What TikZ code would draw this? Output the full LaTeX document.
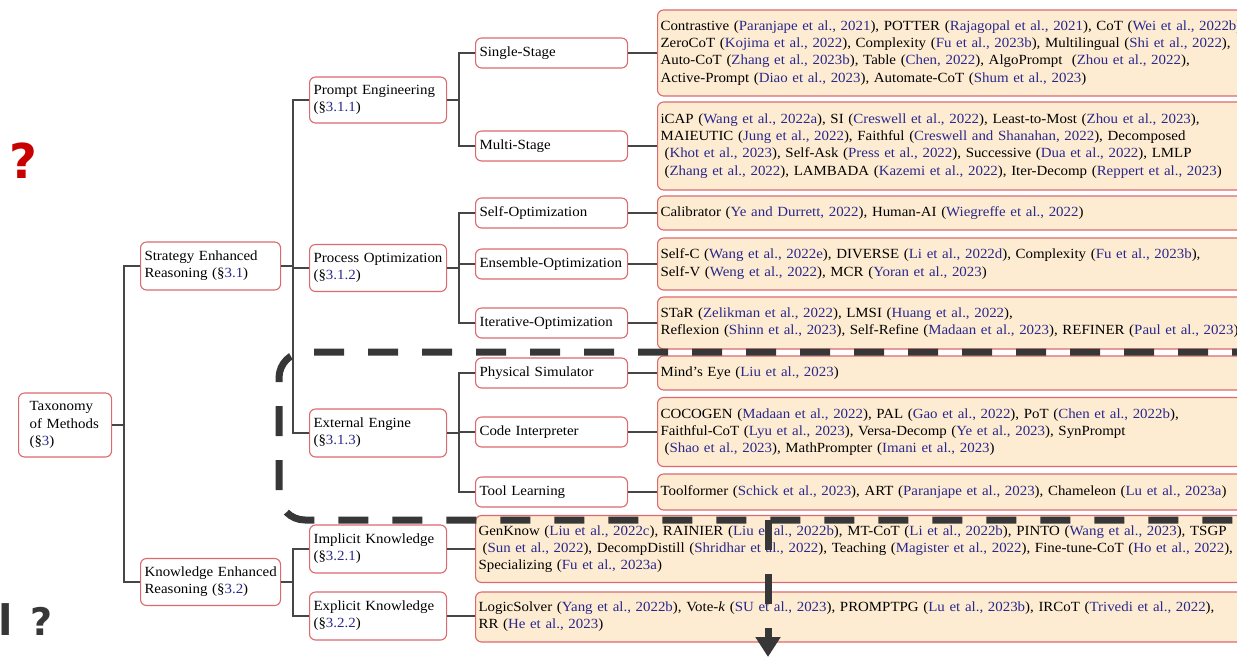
\documentclass[tikz,border=0pt]{standalone}
\usepackage{fontspec}
\setmainfont[FakeStretch=1.065]{Liberation Serif}
\newfontfamily\annfont{DejaVu Sans}
\usetikzlibrary{arrows.meta}
\definecolor{citeblue}{RGB}{40,40,140}
\definecolor{nodered}{RGB}{220,105,110}
\definecolor{leaffill}{RGB}{254,236,210}
\definecolor{linegray}{RGB}{70,70,70}
\definecolor{dashgray}{RGB}{55,55,55}
\definecolor{qred}{RGB}{200,0,0}
\newcommand{\ct}[1]{\textcolor{citeblue}{#1}}
\newcommand{\ind}{\hspace*{4pt}}

\begin{document}
\hyphenpenalty=10000
\exhyphenpenalty=10000
\begin{tikzpicture}[x=1pt,y=-1pt,
  catbox/.style={draw=nodered, line width=1.1pt, rounded corners=6pt, fill=white,
    anchor=west, align=left, inner xsep=4pt, inner ysep=1pt,
    font=\fontsize{14}{17.2}\selectfont},
  leafbox/.style={catbox, fill=leaffill, inner xsep=3pt, text width=800pt},
  midbox/.style={catbox, text width=129pt},
  subbox/.style={catbox, text width=144pt, minimum height=30pt},
  conn/.style={draw=linegray, line width=1.8pt},
  dashbox/.style={draw=dashgray, line width=7pt, dash pattern=on 30pt off 24pt}]
\useasboundingbox (0,0) rectangle (1237,656);
\clip (0,0) rectangle (1237,656);

% root and first level
\node[catbox, text width=71pt, inner xsep=11pt, minimum height=64pt] (root) at (18,425)
  {Taxonomy\\of~Methods\\(\S\ct{3})};
\node[catbox, text width=132pt, minimum height=48pt] (ser) at (140,266)
  {Strategy~Enhanced\\Reasoning~(\S\ct{3.1})};
\node[catbox, text width=132pt, minimum height=47pt] (ker) at (140,582)
  {Knowledge~Enhanced\\Reasoning~(\S\ct{3.2})};

% second level
\node[midbox, minimum height=46pt] (pe) at (309,100) {Prompt~Engineering\\(\S\ct{3.1.1})};
\node[midbox, minimum height=47pt] (po) at (309,268) {Process~Optimization\\(\S\ct{3.1.2})};
\node[midbox, minimum height=48pt] (ee) at (309,433) {External~Engine\\(\S\ct{3.1.3})};
\node[midbox, minimum height=48pt] (ik) at (309,549) {Implicit~Knowledge\\(\S\ct{3.2.1})};
\node[midbox, minimum height=48pt] (ek) at (309,616) {Explicit~Knowledge\\(\S\ct{3.2.2})};

% third level
\node[subbox] (ss) at (475,53)  {Single-Stage};
\node[subbox] (ms) at (475,146) {Multi-Stage};
\node[subbox] (so) at (475,213) {Self-Optimization};
\node[subbox] (eo) at (475,264) {Ensemble-Optimization};
\node[subbox] (io) at (475,323) {Iterative-Optimization};
\node[subbox] (ps) at (475,373) {Physical~Simulator};
\node[subbox] (ci) at (475,432) {Code~Interpreter};
\node[subbox] (tl) at (475,492) {Tool~Learning};

% leaves with the cited works
\node[leafbox, minimum height=86pt] (lss) at (657,53)
  {Contrastive (\ct{Paranjape et al., 2021}), POTTER (\ct{Rajagopal et al., 2021}), CoT (\ct{Wei et al., 2022b}),\\
   ZeroCoT (\ct{Kojima et al., 2022}), Complexity (\ct{Fu et al., 2023b}), Multilingual (\ct{Shi et al., 2022}),\\
   Auto-CoT (\ct{Zhang et al., 2023b}), Table (\ct{Chen, 2022}), AlgoPrompt\ \ (\ct{Zhou et al., 2022}),\\
   Active-Prompt (\ct{Diao et al., 2023}), Automate-CoT (\ct{Shum et al., 2023})};
\node[leafbox, minimum height=88pt] (lms) at (657,146)
  {iCAP (\ct{Wang et al., 2022a}), SI (\ct{Creswell et al., 2022}), Least-to-Most (\ct{Zhou et al., 2023}),\\
   MAIEUTIC (\ct{Jung et al., 2022}), Faithful (\ct{Creswell and Shanahan, 2022}), Decomposed\\
   \ind(\ct{Khot et al., 2023}), Self-Ask (\ct{Press et al., 2022}), Successive (\ct{Dua et al., 2022}), LMLP\\
   \ind(\ct{Zhang et al., 2022}), LAMBADA (\ct{Kazemi et al., 2022}), Iter-Decomp (\ct{Reppert et al., 2023})};
\node[leafbox, minimum height=34pt] (lso) at (657,213)
  {Calibrator (\ct{Ye and Durrett, 2022}), Human-AI (\ct{Wiegreffe et al., 2022})};
\node[leafbox, minimum height=52pt] (leo) at (657,264)
  {Self-C (\ct{Wang et al., 2022e}), DIVERSE (\ct{Li et al., 2022d}), Complexity (\ct{Fu et al., 2023b}),\\
   Self-V (\ct{Weng et al., 2022}), MCR (\ct{Yoran et al., 2023})};
\node[leafbox, minimum height=52pt] (lio) at (657,323)
  {STaR (\ct{Zelikman et al., 2022}), LMSI (\ct{Huang et al., 2022}),\\
   Reflexion (\ct{Shinn et al., 2023}), Self-Refine (\ct{Madaan et al., 2023}), REFINER (\ct{Paul et al., 2023})};
\node[leafbox, minimum height=34pt] (lps) at (657,373)
  {Mind's Eye (\ct{Liu et al., 2023})};
\node[leafbox, minimum height=69pt] (lci) at (657,432)
  {COCOGEN (\ct{Madaan et al., 2022}), PAL (\ct{Gao et al., 2022}), PoT (\ct{Chen et al., 2022b}),\\
   Faithful-CoT (\ct{Lyu et al., 2023}), Versa-Decomp (\ct{Ye et al., 2023}), SynPrompt\\
   \ind(\ct{Shao et al., 2023}), MathPrompter (\ct{Imani et al., 2023})};
\node[leafbox, minimum height=36pt] (ltl) at (657,492)
  {Toolformer (\ct{Schick et al., 2023}), ART (\ct{Paranjape et al., 2023}), Chameleon (\ct{Lu et al., 2023a})};
\node[leafbox, minimum height=67pt] (lik) at (475,549)
  {GenKnow (\ct{Liu et al., 2022c}), RAINIER (\ct{Liu et al., 2022b}), MT-CoT (\ct{Li et al., 2022b}), PINTO (\ct{Wang et al., 2023}), TSGP\\
   \ind(\ct{Sun et al., 2022}), DecompDistill (\ct{Shridhar et al., 2022}), Teaching (\ct{Magister et al., 2022}), Fine-tune-CoT (\ct{Ho et al., 2022}),\\
   Specializing (\ct{Fu et al., 2023a})};
\node[leafbox, minimum height=50pt] (lek) at (475,617)
  {LogicSolver (\ct{Yang et al., 2022b}), Vote-\textit{k} (\ct{SU et al., 2023}), PROMPTPG (\ct{Lu et al., 2023b}), IRCoT (\ct{Trivedi et al., 2022}),\\
   RR (\ct{He et al., 2023})};

% tree connectors
\draw[conn] (root.east) -- ++(12,0) coordinate (f0) |- (ser.west);
\draw[conn] (f0) |- (ker.west);
\draw[conn] (ser.east) -- ++(12,0) coordinate (f1) |- (pe.west);
\draw[conn] (f1) |- (po.west);
\draw[conn] (f1) |- (ee.west);
\draw[conn] (ker.east) -- ++(12,0) coordinate (f2) |- (ik.west);
\draw[conn] (f2) |- (ek.west);
\draw[conn] (pe.east) -- ++(12,0) coordinate (f3) |- (ss.west);
\draw[conn] (f3) |- (ms.west);
\draw[conn] (po.east) -- ++(12,0) coordinate (f4) |- (so.west);
\draw[conn] (f4) |- (eo.west);
\draw[conn] (f4) |- (io.west);
\draw[conn] (ee.east) -- ++(12,0) coordinate (f5) |- (ps.west);
\draw[conn] (f5) |- (ci.west);
\draw[conn] (f5) |- (tl.west);
\foreach \a/\b in {ss/lss, ms/lms, so/lso, eo/leo, io/lio, ps/lps, ci/lci, tl/ltl, ik/lik, ek/lek}
  \draw[conn] (\a.east) -- (\a.east -| \b.west);

% dashed frame around the external-engine branch, with its arrow
\draw[dashbox, rounded corners=26pt] (1262,352) -- (279,352) -- (279,520) -- (1262,520);
\coordinate (arrowtop) at (768,520);
\coordinate (arrowend) at (768,657);
\draw[dashbox, -{Triangle[length=20pt,width=24pt]}] (arrowtop) -- (arrowend);

% hand-written marks
\node[text=qred, font=\annfont\bfseries\fontsize{48}{48}\selectfont, inner sep=0pt] (qa) at (23,161) {?};
\node[text=dashgray, font=\annfont\bfseries\fontsize{42}{42}\selectfont, inner sep=0pt] (qb) at (6,620) {l};
\node[text=dashgray, font=\annfont\bfseries\fontsize{38}{38}\selectfont, inner sep=0pt] (qc) at (42,621) {?};
\end{tikzpicture}
\end{document}
